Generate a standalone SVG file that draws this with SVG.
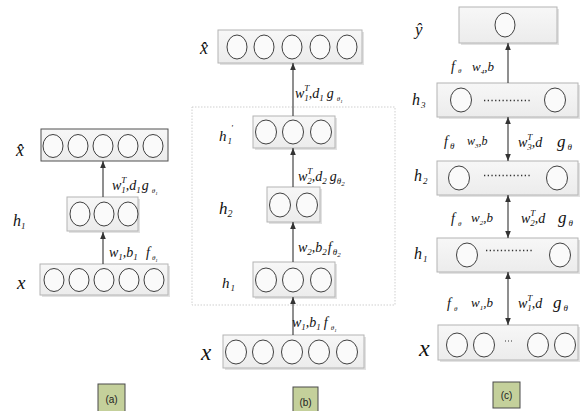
<svg xmlns="http://www.w3.org/2000/svg" width="582" height="411" viewBox="0 0 582 411">
<defs>
<linearGradient id="bg" x1="0" y1="0" x2="0" y2="1">
<stop offset="0" stop-color="#f7f7f7"/>
<stop offset="1" stop-color="#ececec"/>
</linearGradient>
<marker id="ah" viewBox="0 0 8 8" refX="8" refY="4" markerWidth="7" markerHeight="7" markerUnits="userSpaceOnUse" orient="auto-start-reverse">
<path d="M0,0.8 L8,4 L0,7.2 Z" fill="#333"/>
</marker>
</defs>
<style>
.box{fill:url(#bg);stroke:#b4b4b4;stroke-width:1}
.sh{fill:#e2e2e2;stroke:none}
.dk{stroke:#505050}
.c{fill:#fafafa;stroke:#404040;stroke-width:1}
.dots{stroke:#333;stroke-width:1.6;stroke-dasharray:1.3 2.4}
.ln{stroke:#333;stroke-width:1.1;fill:none}
.t{font-family:"Liberation Serif","Times New Roman",serif;font-style:italic;font-size:14px;fill:#111}
.s{font-size:9px}
.ss{font-size:7px}
.sss{font-size:5px}
.tag{fill:#c4d09b;stroke:#4a4a4a;stroke-width:1}
.tagt{font-family:"Liberation Sans Narrow","Liberation Sans",Arial,sans-serif;font-size:10px;fill:#222;text-anchor:middle}
.dash{fill:none;stroke:#cfcfcf;stroke-width:1;stroke-dasharray:1.5 1.5}
</style>
<rect width="582" height="411" fill="#ffffff"/>

<!-- Panel (a) -->
<g id="a-xhat">
<rect class="box dk" x="41" y="129" width="127" height="32"/>
<ellipse class="c" cx="53" cy="146" rx="10" ry="11.5"/>
<ellipse class="c" cx="78" cy="146" rx="10" ry="11.5"/>
<ellipse class="c" cx="103" cy="146" rx="10" ry="11.5"/>
<ellipse class="c" cx="128" cy="146" rx="10" ry="11.5"/>
<ellipse class="c" cx="153" cy="146" rx="10" ry="11.5"/>
<text class="t" x="16" y="156" style="font-size:18px">x̂</text>
</g>
<g id="a-h1">
<rect class="sh" x="69" y="199" width="71" height="34"/>
<rect class="box" x="67" y="197" width="71" height="34"/>
<ellipse class="c" cx="80" cy="214" rx="10" ry="12"/>
<ellipse class="c" cx="104" cy="214" rx="10" ry="12"/>
<ellipse class="c" cx="128" cy="214" rx="10" ry="12"/>
<text class="t" x="13" y="226" style="font-size:16px">h<tspan class="s" dy="3">1</tspan></text>
</g>
<g id="a-x">
<rect class="sh" x="42" y="266" width="128" height="31"/>
<rect class="box" x="40" y="264" width="128" height="31"/>
<ellipse class="c" cx="54" cy="280" rx="10" ry="11.5"/>
<ellipse class="c" cx="79" cy="280" rx="10" ry="11.5"/>
<ellipse class="c" cx="104" cy="280" rx="10" ry="11.5"/>
<ellipse class="c" cx="129" cy="280" rx="10" ry="11.5"/>
<ellipse class="c" cx="154" cy="280" rx="10" ry="11.5"/>
<text class="t" x="17" y="289" style="font-size:19px">x</text>
</g>

<!-- Panel (b) -->
<rect class="dash" x="192" y="107" width="203" height="198"/>
<g id="b-xhat">
<rect class="sh" x="220" y="32" width="144" height="33"/>
<rect class="box" x="218" y="30" width="144" height="33"/>
<ellipse class="c" cx="237" cy="47" rx="10" ry="12"/>
<ellipse class="c" cx="264" cy="47" rx="10" ry="12"/>
<ellipse class="c" cx="292" cy="47" rx="10" ry="12"/>
<ellipse class="c" cx="320" cy="47" rx="10" ry="12"/>
<ellipse class="c" cx="347" cy="47" rx="10" ry="12"/>
<text class="t" x="200" y="54" style="font-size:18px">x̂</text>
</g>
<g id="b-h1p">
<rect class="sh" x="255" y="118" width="82" height="32"/>
<rect class="box" x="253" y="116" width="82" height="32"/>
<ellipse class="c" cx="266" cy="132" rx="10.5" ry="12"/>
<ellipse class="c" cx="293" cy="132" rx="10.5" ry="12"/>
<ellipse class="c" cx="321" cy="132" rx="10.5" ry="12"/>
<text class="t" x="219" y="141" style="font-size:15px">h<tspan class="s" dx="1" dy="3">1</tspan><tspan class="s" dx="-1" dy="-13">'</tspan></text>
</g>
<g id="b-h2">
<rect class="sh" x="269" y="189" width="53" height="35"/>
<rect class="box" x="267" y="187" width="53" height="35"/>
<ellipse class="c" cx="280" cy="205" rx="10.5" ry="12"/>
<ellipse class="c" cx="307" cy="205" rx="10.5" ry="12"/>
<text class="t" x="219" y="214" style="font-size:17px">h<tspan class="s" dy="3" style="font-size:10px">2</tspan></text>
</g>
<g id="b-h1">
<rect class="sh" x="255" y="264" width="82" height="35"/>
<rect class="box" x="253" y="262" width="82" height="35"/>
<ellipse class="c" cx="266" cy="280" rx="10.5" ry="12"/>
<ellipse class="c" cx="293" cy="280" rx="10.5" ry="12"/>
<ellipse class="c" cx="321" cy="280" rx="10.5" ry="12"/>
<text class="t" x="222" y="288" style="font-size:15px">h<tspan class="s" dx="1" dy="3">1</tspan></text>
</g>
<g id="b-x">
<rect class="sh" x="225" y="337" width="141" height="33"/>
<rect class="box" x="223" y="335" width="141" height="33"/>
<ellipse class="c" cx="236" cy="352" rx="10.5" ry="12"/>
<ellipse class="c" cx="263" cy="352" rx="10.5" ry="12"/>
<ellipse class="c" cx="292" cy="352" rx="10.5" ry="12"/>
<ellipse class="c" cx="319" cy="352" rx="10.5" ry="12"/>
<ellipse class="c" cx="347" cy="352" rx="10.5" ry="12"/>
<text class="t" x="201" y="360" style="font-size:23px">x</text>
</g>

<!-- Panel (c) -->
<g id="c-yhat">
<rect class="sh" x="461" y="9" width="98" height="36"/>
<rect class="box" x="459" y="7" width="98" height="36"/>
<ellipse class="c" cx="505" cy="25" rx="10" ry="12"/>
<text class="t" x="415" y="35" style="font-size:17px">ŷ</text>
</g>
<g id="c-h3">
<rect class="sh" x="439" y="85" width="141" height="34"/>
<rect class="box" x="437" y="83" width="141" height="34"/>
<ellipse class="c" cx="461" cy="100" rx="10.5" ry="12"/>
<ellipse class="c" cx="555" cy="100" rx="10.5" ry="12"/>
<line class="dots" x1="484" y1="100.5" x2="531" y2="100.5"/>
<text class="t" x="412" y="105" style="font-size:16px">h<tspan class="s" dx="1" dy="3">3</tspan></text>
</g>
<g id="c-h2">
<rect class="sh" x="439" y="163" width="141" height="34"/>
<rect class="box" x="437" y="161" width="141" height="34"/>
<ellipse class="c" cx="459" cy="178" rx="10.5" ry="12"/>
<ellipse class="c" cx="557" cy="178" rx="10.5" ry="12"/>
<line class="dots" x1="484" y1="175.5" x2="531" y2="175.5"/>
<text class="t" x="414" y="181" style="font-size:16px">h<tspan class="s" dx="1" dy="3">2</tspan></text>
</g>
<g id="c-h1">
<rect class="sh" x="439" y="240" width="141" height="34"/>
<rect class="box" x="437" y="238" width="141" height="34"/>
<ellipse class="c" cx="467" cy="255" rx="10.5" ry="12"/>
<ellipse class="c" cx="560" cy="255" rx="10.5" ry="12"/>
<line class="dots" x1="486" y1="250.5" x2="533" y2="250.5"/>
<text class="t" x="414" y="259" style="font-size:16px">h<tspan class="s" dx="1" dy="3">1</tspan></text>
</g>
<g id="c-x">
<rect class="sh" x="440" y="327" width="140" height="35"/>
<rect class="box" x="438" y="325" width="140" height="35"/>
<ellipse class="c" cx="457" cy="345" rx="10.5" ry="12"/>
<ellipse class="c" cx="484" cy="345" rx="10.5" ry="12"/>
<line class="dots" x1="505" y1="341" x2="513" y2="341" style="stroke-width:1.2;stroke-dasharray:1 2"/>
<ellipse class="c" cx="538" cy="345" rx="10.5" ry="12"/>
<ellipse class="c" cx="565" cy="345" rx="10.5" ry="12"/>
<text class="t" x="419" y="356" style="font-size:24px">x</text>
</g>

<!-- Connectors -->
<g id="connectors">
<line class="ln" x1="103" y1="264" x2="103" y2="232" marker-end="url(#ah)"/>
<line class="ln" x1="103" y1="197" x2="103" y2="161" marker-end="url(#ah)"/>
<line class="ln" x1="293" y1="335" x2="293" y2="297" marker-end="url(#ah)"/>
<line class="ln" x1="293" y1="262" x2="293" y2="222" marker-end="url(#ah)"/>
<line class="ln" x1="293" y1="187" x2="293" y2="148" marker-end="url(#ah)"/>
<line class="ln" x1="293" y1="116" x2="293" y2="63" marker-end="url(#ah)"/>
<line class="ln" x1="508" y1="83" x2="508" y2="43" marker-end="url(#ah)"/>
<line class="ln" x1="508" y1="117" x2="508" y2="161" marker-start="url(#ah)" marker-end="url(#ah)"/>
<line class="ln" x1="508" y1="195" x2="508" y2="238" marker-start="url(#ah)" marker-end="url(#ah)"/>
<line class="ln" x1="508" y1="272" x2="508" y2="325" marker-start="url(#ah)" marker-end="url(#ah)"/>
</g>

<!-- Connector labels -->
<g id="labels">
<text class="t" x="112" y="190">w<tspan class="s" dy="-7">T</tspan><tspan class="s" dx="-5" dy="10">1</tspan><tspan dy="-3">,d</tspan><tspan class="s" dy="3">1</tspan><tspan dx="1" dy="-3">g</tspan><tspan class="ss" dx="3" dy="3">θ</tspan><tspan class="sss" dy="2">1</tspan></text>
<text class="t" x="109" y="257">w<tspan class="s" dy="3">1</tspan><tspan dy="-3">,b</tspan><tspan class="s" dy="3">1</tspan><tspan x="146" dy="-3">f</tspan><tspan class="ss" dx="2" dy="3">θ</tspan><tspan class="sss" dy="2">1</tspan></text>

<text class="t" x="295" y="98">w<tspan class="s" dy="-7">T</tspan><tspan class="s" dx="-5" dy="10">1</tspan><tspan dy="-3">,d</tspan><tspan class="s" dy="3">1</tspan><tspan dx="3" dy="-3">g</tspan><tspan class="ss" dx="3" dy="3">θ</tspan><tspan class="sss" dy="2">1</tspan></text>
<text class="t" x="298" y="181">w<tspan class="s" dy="-7">T</tspan><tspan class="s" dx="-5" dy="10">2</tspan><tspan dy="-3">,d</tspan><tspan class="s" dy="3">2</tspan><tspan dx="3" dy="-3">g</tspan><tspan class="s" dy="3">θ</tspan><tspan class="ss" dy="2">2</tspan></text>
<text class="t" x="298" y="252">w<tspan class="s" dy="3">2</tspan><tspan dy="-3">,b</tspan><tspan class="s" dy="3">2</tspan><tspan dx="1" dy="-3">f</tspan><tspan class="s" dx="1" dy="3">θ</tspan><tspan class="ss" dy="2">2</tspan></text>
<text class="t" x="292" y="327">w<tspan class="s" dy="3">1</tspan><tspan dy="-3">,b</tspan><tspan class="s" dy="3">1</tspan><tspan dx="3" dy="-3">f</tspan><tspan class="ss" dx="3" dy="3">θ</tspan><tspan class="sss" dy="2">1</tspan></text>

<text class="t" x="451" y="71">f<tspan class="ss" dx="3" dy="2">θ</tspan><tspan x="472" dy="-2" style="font-size:13px">w</tspan><tspan class="ss" dy="3">4</tspan><tspan dy="-3" style="font-size:13px">,b</tspan></text>
<text class="t" x="444" y="146">f<tspan class="s" dx="2" dy="3">θ</tspan><tspan x="467" dy="-4" style="font-size:12px">w</tspan><tspan class="ss" dy="3">3</tspan><tspan dy="-3" style="font-size:12px">,b</tspan></text>
<text class="t" x="518" y="147">w<tspan class="s" dy="-7">T</tspan><tspan class="s" dx="-5" dy="10">3</tspan><tspan dy="-3">,d</tspan><tspan x="557" style="font-size:17px">g</tspan><tspan class="s" dx="2" dy="3">θ</tspan></text>
<text class="t" x="451" y="223">f<tspan class="ss" dx="3" dy="3">θ</tspan><tspan x="471" dy="-4" style="font-size:13px">w</tspan><tspan class="ss" dy="3">2</tspan><tspan dy="-3" style="font-size:13px">,b</tspan></text>
<text class="t" x="521" y="223">w<tspan class="s" dy="-7">T</tspan><tspan class="s" dx="-5" dy="10">2</tspan><tspan dy="-3">,d</tspan><tspan x="558" style="font-size:17px">g</tspan><tspan class="s" dx="2" dy="3">θ</tspan></text>
<text class="t" x="447" y="308">f<tspan class="ss" dx="3" dy="3">θ</tspan><tspan x="471" dy="-4" style="font-size:13px">w</tspan><tspan class="ss" dy="3">1</tspan><tspan dy="-3" style="font-size:13px">,b</tspan></text>
<text class="t" x="518" y="308">w<tspan class="s" dy="-7">T</tspan><tspan class="s" dx="-5" dy="10">1</tspan><tspan dy="-3">,d</tspan><tspan x="553" style="font-size:17px">g</tspan><tspan class="s" dx="2" dy="3">θ</tspan></text>
</g>

<!-- Panel tags -->
<g id="tag-a">
<rect class="tag" x="98" y="384" width="27" height="30"/>
<text class="tagt" x="111.5" y="403">(a)</text>
</g>
<g id="tag-b">
<rect class="tag" x="293" y="387" width="25" height="28"/>
<text class="tagt" x="305.5" y="406">(b)</text>
</g>
<g id="tag-c">
<rect class="tag" x="493" y="382" width="27" height="26"/>
<text class="tagt" x="506.5" y="399">(c)</text>
</g>
</svg>
